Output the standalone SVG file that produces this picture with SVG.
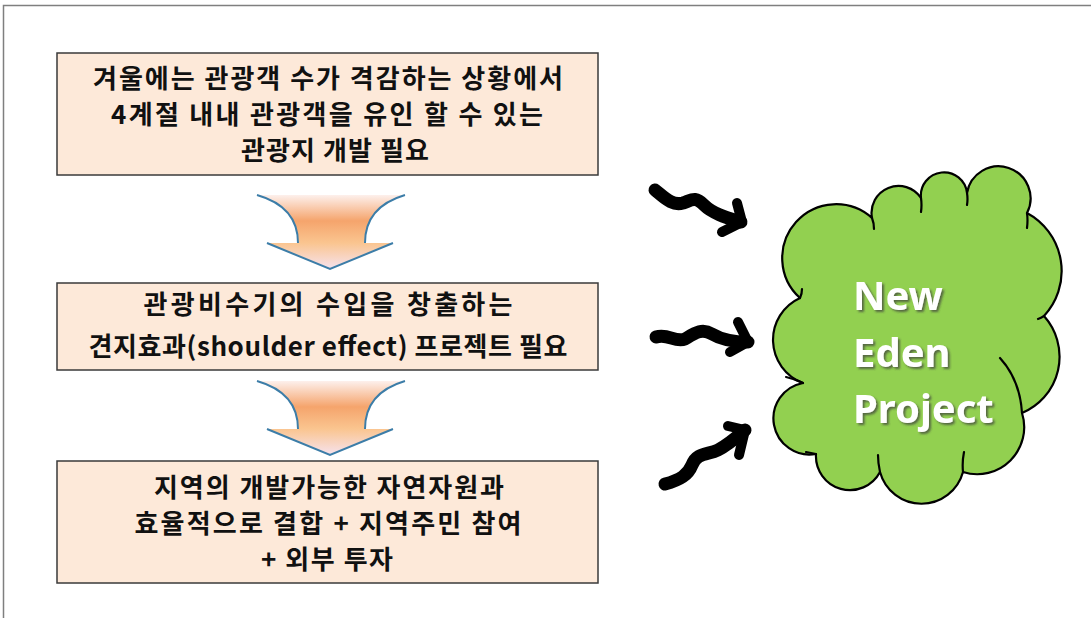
<svg xmlns="http://www.w3.org/2000/svg" width="1091" height="618" viewBox="0 0 1091 618">
<defs>
<linearGradient id="gArrow" x1="0" y1="0" x2="0" y2="1">
<stop offset="0" stop-color="#FDF0EC"/>
<stop offset="0.35" stop-color="#F5A46C"/>
<stop offset="0.65" stop-color="#FAC590"/>
<stop offset="1" stop-color="#F6E2EE"/>
</linearGradient>
<filter id="shadow" x="-10%" y="-10%" width="130%" height="130%">
<feDropShadow dx="2" dy="2" stdDeviation="1.2" flood-color="#3a3a3a" flood-opacity="0.7"/>
</filter>
</defs>
<style>
.box{fill:#FDE9D9;stroke:#3A3A3A;stroke-width:1.5}
.txt{font-family:"Noto Sans CJK KR","Noto Sans",sans-serif;font-weight:700;font-size:26px;fill:#111;text-anchor:middle}
.darr{fill:url(#gArrow);stroke:none}
.darrEdge{fill:none;stroke:#3C7DA8;stroke-width:2}
.wave{fill:none;stroke:#000;stroke-width:13;stroke-linecap:round;stroke-linejoin:round}
.head{fill:none;stroke:#000;stroke-width:10;stroke-linecap:round;stroke-linejoin:round}
.cloud{fill:#92D050;stroke:#000;stroke-width:2.2;stroke-linejoin:round}
.ctail{fill:none;stroke:#000;stroke-width:2.2;stroke-linecap:round}
.ctxt{font-family:"Noto Sans","Open Sans",sans-serif;font-weight:700;font-size:40px;fill:#fff}
.frame{fill:none;stroke:#7F7F7F;stroke-width:1.5}
</style>
<rect width="1091" height="618" fill="#fff"/>
<path class="frame" d="M3.5,618 V5.5 H1091"/>

<g id="box1">
<rect class="box" x="57" y="53" width="541" height="122"/>
<text class="txt" x="328" y="88" textLength="470" lengthAdjust="spacing">겨울에는 관광객 수가 격감하는 상황에서</text>
<text class="txt" x="327" y="124" textLength="432" lengthAdjust="spacing">4계절 내내 관광객을 유인 할 수 있는</text>
<text class="txt" x="335" y="160" textLength="188" lengthAdjust="spacing">관광지 개발 필요</text>
</g>

<g id="box2">
<rect class="box" x="57" y="283" width="541" height="87"/>
<text class="txt" x="328" y="314" textLength="369" lengthAdjust="spacing">관광비수기의 수입을 창출하는</text>
<text class="txt" x="328" y="356" textLength="479" lengthAdjust="spacing">견지효과(shoulder effect) 프로젝트 필요</text>
</g>

<g id="box3">
<rect class="box" x="57" y="461" width="541" height="122"/>
<text class="txt" x="329" y="497" textLength="350" lengthAdjust="spacing">지역의 개발가능한 자연자원과</text>
<text class="txt" x="328" y="533" textLength="387" lengthAdjust="spacing">효율적으로 결합 + 지역주민 참여</text>
<text class="txt" x="327" y="569" textLength="132" lengthAdjust="spacing">+ 외부 투자</text>
</g>

<g id="cloud">
<path class="cloud" d="M800,298 A52,52 0 0 1 872,218 A27,27 0 0 1 921,198 A23,23 0 1 1 967,193 A32,32 0 1 1 1027,213 A66,66 0 0 1 1044,316 A61,61 0 0 1 1022,413 A47,47 0 0 1 963,472 A43,43 0 0 1 880,472 A34,34 0 0 1 816,454 A36,36 0 0 1 803,383 A46,46 0 0 1 800,298 Z"/>
<path class="ctail" d="M800,298 Q802,294 802,289 M872,218 Q874,223 874,229 M921,198 Q922,205 921,212 M967,193 Q968,199 967,205 M1027,213 Q1028,220 1027,228 M1044,316 Q1041,318 1038,319 M1022,413 Q1020,380 1000,358 M963,472 Q962,462 964,452 M880,472 Q878,463 878,455 M816,454 Q811,453 806,452 M803,383 Q795,379 786,377"/>
<g filter="url(#shadow)">
<text class="ctxt" x="853" y="310">New</text>
<text class="ctxt" x="853" y="367">Eden</text>
<text class="ctxt" x="853" y="423">Project</text>
</g>
</g>

<g id="connectors">
<g id="down1">
<path class="darr" d="M257,195 C285,203 298,220 298,243 L267,243 L330,269 L393,243 L365,243 C365,220 378,203 405,195 Z"/>
<path class="darrEdge" d="M257,195 C285,203 298,220 298,243 M267,243 L330,269 L393,243 M365,243 C365,220 378,203 405,195"/>
</g>
<g id="down2">
<path class="darr" d="M257,381 C285,389 298,406 298,429 L267,429 L330,455 L393,429 L365,429 C365,406 378,389 405,381 Z"/>
<path class="darrEdge" d="M257,381 C285,389 298,406 298,429 M267,429 L330,455 L393,429 M365,429 C365,406 378,389 405,381"/>
</g>
<g id="wave1">
<path class="wave" d="M655,190 C665,198 672,206 683,203 C692,200 695,196 704,205 C713,214 728,218 741,222"/>
<path class="head" d="M737,203 L742,222 L722,232"/>
</g>
<g id="wave2">
<path class="wave" d="M656,337 C668,333 675,343 685,339 C695,333 702,328 712,334 C722,340 735,342 748,342"/>
<path class="head" d="M738,322 L748,342 L730,352"/>
</g>
<g id="wave3">
<path class="wave" d="M665,484 C680,480 688,475 692,465 C697,452 708,455 718,450 C728,445 737,437 745,430"/>
<path class="head" d="M728,426 L745,430 L739,455"/>
</g>
</g>
</svg>
